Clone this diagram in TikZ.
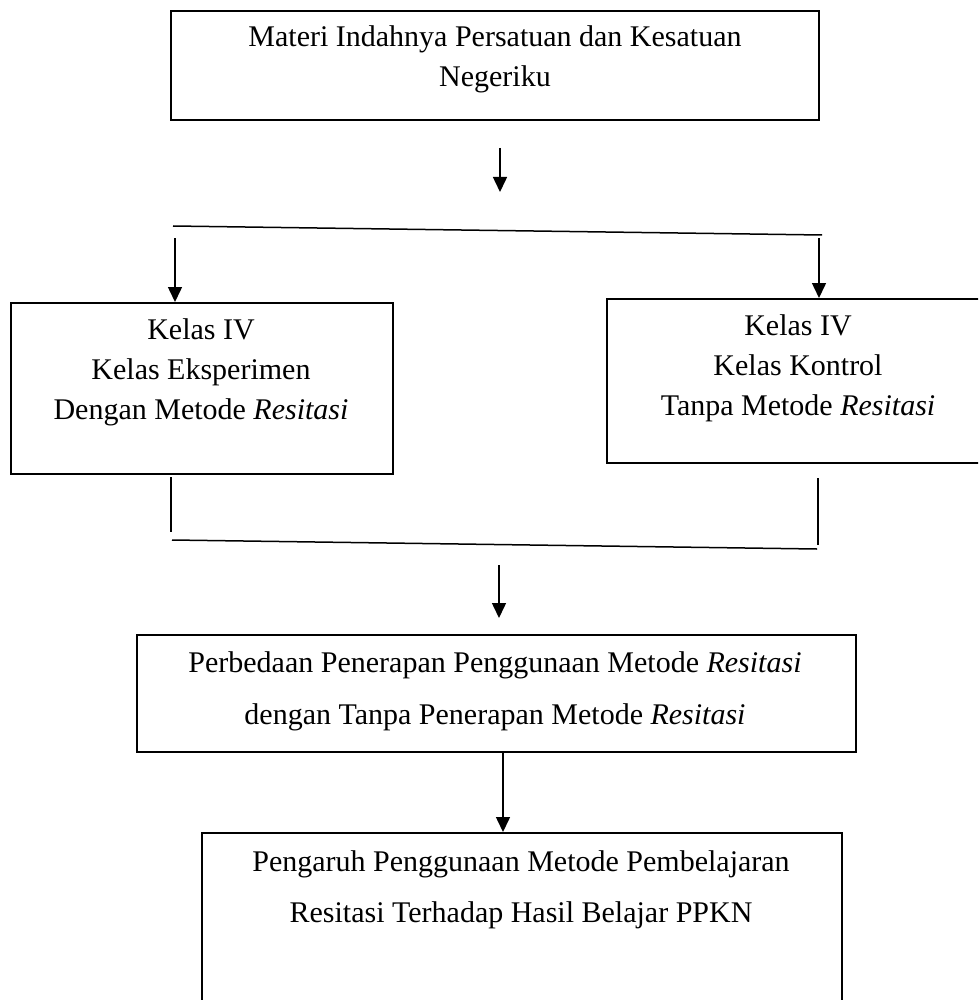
\documentclass[tikz,border=0pt]{standalone}
\usepackage{fontspec}
\setmainfont{Liberation Serif}
\usetikzlibrary{arrows.meta}
\tikzset{
  boxnode/.style={draw, line width=1.6pt, inner sep=0pt, anchor=north west},
  txt/.style={anchor=base, align=center, inner sep=0pt, font=\fontsize{30}{40}\selectfont},
  conn/.style={line width=1.5pt},
  arr/.style={line width=1.5pt, -{Triangle[width=14pt,length=15pt]}}
}
\begin{document}
\begin{tikzpicture}[x=1pt,y=-1pt]
\useasboundingbox (0,0) rectangle (978,1000);
\clip (0,0) rectangle (978,1000);
\fill[white] (0,0) rectangle (978,1000);
% boxes
\node[boxnode, minimum width=648pt, minimum height=109pt] (top) at (170,10) {};
\node[boxnode, minimum width=382pt, minimum height=171pt] (kiri) at (10,302) {};
\node[boxnode, minimum width=420pt, minimum height=164pt] (kanan) at (606,298) {};
\node[boxnode, minimum width=719pt, minimum height=117pt] (beda) at (136,634) {};
\node[boxnode, minimum width=640pt, minimum height=220pt] (hasil) at (201,832) {};
% texts (base anchor = baseline of the last line)
\node[txt] (ttop) at (495,87) {Materi Indahnya Persatuan dan Kesatuan\\Negeriku};
\node[txt] (tkiri) at (201,419) {Kelas IV\\Kelas Eksperimen\\Dengan Metode \textit{Resitasi}};
\node[txt] (tkanan) at (798,415) {Kelas IV\\Kelas Kontrol\\Tanpa Metode \textit{Resitasi}};
\node[txt, font=\fontsize{30}{52}\selectfont] (tbeda) at (495,724) {Perbedaan Penerapan Penggunaan Metode \textit{Resitasi}\\dengan Tanpa Penerapan Metode \textit{Resitasi}};
\node[txt, font=\fontsize{30}{51}\selectfont] (thasil) at (521,922) {Pengaruh Penggunaan Metode Pembelajaran\\Resitasi Terhadap Hasil Belajar PPKN};
% connector coordinates
\coordinate (a1s) at (500,148);
\coordinate (a1e) at (500,192);
\coordinate (s1l) at (173,226);
\coordinate (s1r) at (822,235);
\coordinate (al) at (175,238);
\coordinate (ar) at (819,238);
\coordinate (vl) at (171,477);
\coordinate (vlb) at (171,532);
\coordinate (vr) at (818,478);
\coordinate (vrb) at (818,545);
\coordinate (s2l) at (172,540);
\coordinate (s2r) at (817,549);
\coordinate (a3s) at (499,565);
\coordinate (a3e) at (499,618);
\coordinate (a4) at (503,700);
% connectors
\draw[arr] (a1s) -- (a1e);
\draw[conn] (s1l) -- (s1r);
\draw[arr] (al) -- (al |- kiri.north);
\draw[arr] (ar) -- (ar |- kanan.north);
\draw[conn] (vl) -- (vlb);
\draw[conn] (vr) -- (vrb);
\draw[conn] (s2l) -- (s2r);
\draw[arr] (a3s) -- (a3e);
\draw[arr] (a4 |- beda.south) -- (a4 |- hasil.north);
\end{tikzpicture}
\end{document}
